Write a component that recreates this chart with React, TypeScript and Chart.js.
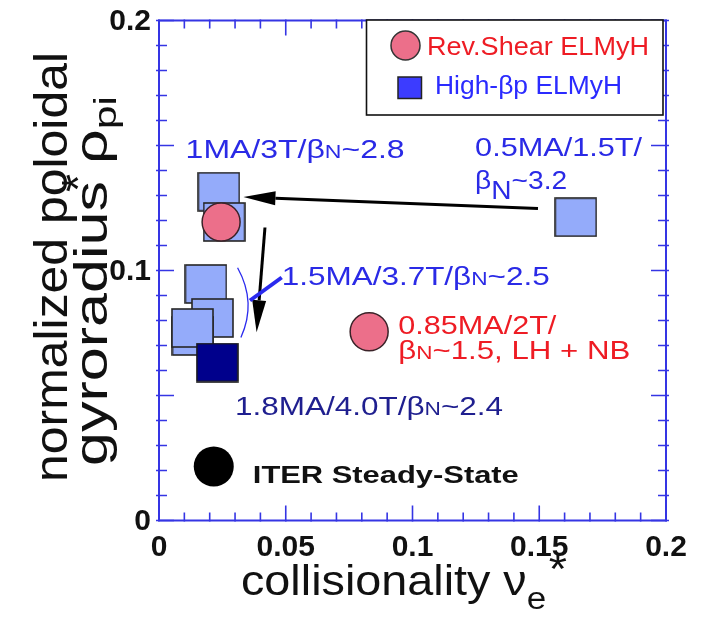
import React, { useEffect, useRef } from "react";
import { Chart, registerables } from "chart.js";

Chart.register(...registerables);

// Axis ticks (value, label)
const xTickValues = [0, 0.05, 0.1, 0.15, 0.2];
const xTickLabels = ["0", "0.05", "0.1", "0.15", "0.2"];
const yTickValues = [0, 0.1, 0.2];
const yTickLabels = ["0", "0.1", "0.2"];

// High-βp ELMy H-mode discharges (collisionality, normalized poloidal gyroradius)
const highBpNu = [0.0236, 0.0257, 0.0185, 0.0211, 0.0134, 0.0132, 0.1644];
const highBpRho = [0.1315, 0.1194, 0.0946, 0.081, 0.0738, 0.077, 0.1213];
// 1.8MA / 4.0T high-βp discharge
const highIpNu = [0.023];
const highIpRho = [0.0632];
// Reversed-shear ELMy H-mode discharges
const revShearNu = [0.0245, 0.0829];
const revShearRho = [0.1194, 0.0755];
// ITER steady-state operating point
const iterNu = [0.0216];
const iterRho = [0.0216];

const AXIS_BLUE = "#3535e4";
const SQUARE_FILL = "#94abfa";
const NAVY = "#00008c";
const PINK = "#ec6f8a";
const LABEL_BLUE = "#2a2ae6";
const LABEL_NAVY = "#1f1f8f";
const LABEL_RED = "#ee1c24";
const FONT = "Arial, 'Liberation Sans', sans-serif";

type Seg = { t: string; s?: number; dy?: number };

function drawRich(
  ctx: CanvasRenderingContext2D,
  segs: Seg[],
  x: number,
  y: number,
  size: number,
  weight: string,
  color: string,
  width?: number
) {
  let total = 0;
  const widths: number[] = [];
  for (const sg of segs) {
    ctx.font = `${weight} ${size * (sg.s ?? 1)}px ${FONT}`;
    const w = ctx.measureText(sg.t).width;
    widths.push(w);
    total += w;
  }
  const sx = width ? width / total : 1;
  ctx.save();
  ctx.translate(x, y);
  ctx.scale(sx, 1);
  ctx.fillStyle = color;
  ctx.textAlign = "left";
  ctx.textBaseline = "alphabetic";
  let cx = 0;
  segs.forEach((sg, i) => {
    ctx.font = `${weight} ${size * (sg.s ?? 1)}px ${FONT}`;
    ctx.fillText(sg.t, cx, sg.dy ?? 0);
    cx += widths[i];
  });
  ctx.restore();
}

// Text annotations anchored at data coordinates (left edge, baseline)
const annotations: {
  nu: number;
  rho: number;
  segs: Seg[];
  size: number;
  weight: string;
  color: string;
  width: number;
}[] = [
  { nu: 0.0105, rho: 0.1451, segs: [{ t: "1MA/3T/β" }, { t: "N", s: 0.72 }, { t: "~2.8" }], size: 25, weight: "normal", color: LABEL_BLUE, width: 219 },
  { nu: 0.1247, rho: 0.1458, segs: [{ t: "0.5MA/1.5T/" }], size: 25, weight: "normal", color: LABEL_BLUE, width: 167 },
  { nu: 0.1247, rho: 0.1325, segs: [{ t: "β" }, { t: "N", dy: 10 }, { t: "~3.2" }], size: 25, weight: "normal", color: LABEL_BLUE, width: 92 },
  { nu: 0.0484, rho: 0.0943, segs: [{ t: "1.5MA/3.7T/β" }, { t: "N", s: 0.72 }, { t: "~2.5" }], size: 25, weight: "normal", color: LABEL_BLUE, width: 268 },
  { nu: 0.0944, rho: 0.0748, segs: [{ t: "0.85MA/2T/" }], size: 25, weight: "normal", color: LABEL_RED, width: 158 },
  { nu: 0.0944, rho: 0.0648, segs: [{ t: "β" }, { t: "N", s: 0.72 }, { t: "~1.5, LH + NB" }], size: 25, weight: "normal", color: LABEL_RED, width: 232 },
  { nu: 0.03, rho: 0.0421, segs: [{ t: "1.8MA/4.0T/β" }, { t: "N", s: 0.72 }, { t: "~2.4" }], size: 25, weight: "normal", color: LABEL_NAVY, width: 268 },
  { nu: 0.037, rho: 0.015, segs: [{ t: "ITER Steady-State" }], size: 24, weight: "bold", color: "#111", width: 266 },
];

// Arrows (tail -> tip) in data coordinates
const arrows = [
  { from: [0.1495, 0.1248], to: [0.0333, 0.1294] },
  { from: [0.0418, 0.1172], to: [0.0385, 0.0753] },
];

function makeSquare(w: number, h: number, fill: string, stroke: string, lw: number) {
  const c = document.createElement("canvas");
  c.width = w + 2;
  c.height = h + 2;
  const g = c.getContext("2d")!;
  g.fillStyle = fill;
  g.fillRect(1, 1, w, h);
  g.strokeStyle = stroke;
  g.lineWidth = lw;
  g.strokeRect(1, 1, w, h);
  return c;
}

export default function App() {
  const ref = useRef<HTMLCanvasElement>(null);

  useEffect(() => {
    const canvas = ref.current!;
    const lightSquare = makeSquare(41, 38, SQUARE_FILL, "#262626", 1.6);
    const navySquare = makeSquare(41, 38, NAVY, "#1a1a1a", 1.6);

    const decorations = {
      id: "decorations",
      beforeDatasetsDraw(chart: any) {
        const { ctx, chartArea: a, scales } = chart;
        const xs = scales.x;
        const ys = scales.y;
        ctx.save();
        // frame
        ctx.strokeStyle = AXIS_BLUE;
        ctx.lineWidth = 2;
        ctx.strokeRect(a.left, a.top, a.right - a.left, a.bottom - a.top);
        // inward ticks every 0.01, longer at multiples of 0.05
        ctx.lineWidth = 1.6;
        for (let i = 0; i <= 20; i++) {
          const v = i / 100;
          const major = i % 5 === 0;
          const len = major ? 15 : 8;
          const px = xs.getPixelForValue(v);
          const py = ys.getPixelForValue(v);
          ctx.beginPath();
          ctx.moveTo(px, a.bottom + 1);
          ctx.lineTo(px, a.bottom - len);
          ctx.moveTo(px, a.top - 1);
          ctx.lineTo(px, a.top + len);
          ctx.moveTo(a.left - 3, py);
          ctx.lineTo(a.left + len, py);
          ctx.moveTo(a.right + 3, py);
          ctx.lineTo(a.right - len, py);
          ctx.stroke();
        }
        // tick labels
        ctx.fillStyle = "#111";
        ctx.font = `bold 30px ${FONT}`;
        ctx.textAlign = "center";
        ctx.textBaseline = "alphabetic";
        xTickValues.forEach((v, i) => {
          ctx.fillText(xTickLabels[i], xs.getPixelForValue(v), a.bottom + 35);
        });
        ctx.textAlign = "right";
        yTickValues.forEach((v, i) => {
          ctx.fillText(yTickLabels[i], a.left - 8, ys.getPixelForValue(v) + 9);
        });

        // axis titles
        drawRich(
          ctx,
          [{ t: "collisionality ν" }, { t: "e", s: 0.75, dy: 14 }, { t: " " , s: 0.2}, { t: "*", dy: -12 }],
          241, 595, 43, "normal", "#111", 326
        );
        ctx.save();
        ctx.translate(67, 482);
        ctx.rotate(-Math.PI / 2);
        drawRich(ctx, [{ t: "normalized poloidal" }], 0, 0, 47, "normal", "#111", 430);
        ctx.restore();
        ctx.save();
        ctx.translate(107, 466);
        ctx.rotate(-Math.PI / 2);
        drawRich(ctx, [{ t: "gyroradius ρ" }, { t: "pi", s: 0.7, dy: 9 }], 0, 0, 46, "normal", "#111", 370);
        ctx.restore();
        ctx.font = `normal 46px ${FONT}`;
        ctx.save();
        ctx.translate(94, 174);
        ctx.rotate(-Math.PI / 2);
        ctx.fillStyle = "#111";
        ctx.fillText("*", 0, 0);
        ctx.restore();
        ctx.restore();
      },
      afterDatasetsDraw(chart: any) {
        const { ctx, scales } = chart;
        const xs = scales.x;
        const ys = scales.y;
        const P = (p: number[]) => [xs.getPixelForValue(p[0]), ys.getPixelForValue(p[1])];
        ctx.save();
        // arrows
        ctx.strokeStyle = "#000";
        ctx.fillStyle = "#000";
        arrows.forEach((ar) => {
          const [x1, y1] = P(ar.from);
          const [x2, y2] = P(ar.to);
          const ang = Math.atan2(y2 - y1, x2 - x1);
          const hl = 32;
          const hw = 7;
          const bx = x2 - hl * Math.cos(ang);
          const by = y2 - hl * Math.sin(ang);
          ctx.lineWidth = 3;
          ctx.beginPath();
          ctx.moveTo(x1, y1);
          ctx.lineTo(bx, by);
          ctx.stroke();
          ctx.beginPath();
          ctx.moveTo(x2, y2);
          ctx.lineTo(bx + hw * Math.sin(ang), by - hw * Math.cos(ang));
          ctx.lineTo(bx - hw * Math.sin(ang), by + hw * Math.cos(ang));
          ctx.closePath();
          ctx.fill();
        });
        // bracket around the 1.5MA group and its pointer
        ctx.strokeStyle = "#2a2aee";
        ctx.lineWidth = 1.3;
        const [a1x, a1y] = P([0.031, 0.1011]);
        const [acx, acy] = P([0.0386, 0.0872]);
        const [a2x, a2y] = P([0.0323, 0.0732]);
        ctx.beginPath();
        ctx.moveTo(a1x, a1y);
        ctx.quadraticCurveTo(acx, acy, a2x, a2y);
        ctx.stroke();
        const [p1x, p1y] = P([0.0484, 0.0972]);
        const [p2x, p2y] = P([0.0359, 0.088]);
        ctx.lineWidth = 4;
        ctx.beginPath();
        ctx.moveTo(p1x, p1y);
        ctx.lineTo(p2x, p2y);
        ctx.stroke();
        // text annotations
        annotations.forEach((an) => {
          drawRich(ctx, an.segs, xs.getPixelForValue(an.nu), ys.getPixelForValue(an.rho), an.size, an.weight, an.color, an.width);
        });
        ctx.restore();
      },
      afterDraw(chart: any) {
        const { ctx } = chart;
        ctx.save();
        // legend box
        ctx.fillStyle = "#fff";
        ctx.fillRect(366.5, 20, 296.5, 95);
        ctx.strokeStyle = "#111";
        ctx.lineWidth = 1.6;
        ctx.strokeRect(366.5, 20, 296.5, 95);
        ctx.beginPath();
        ctx.arc(405.5, 45.5, 14.5, 0, Math.PI * 2);
        ctx.fillStyle = PINK;
        ctx.fill();
        ctx.strokeStyle = "#333";
        ctx.lineWidth = 1.5;
        ctx.stroke();
        drawRich(ctx, [{ t: "Rev.Shear ELMyH" }], 427, 55, 25, "normal", LABEL_RED, 222);
        ctx.fillStyle = "#3c3cff";
        ctx.fillRect(398, 77, 23.5, 21.5);
        ctx.strokeStyle = "#222";
        ctx.strokeRect(398, 77, 23.5, 21.5);
        drawRich(ctx, [{ t: "High-βp ELMyH" }], 435, 93.5, 25, "normal", "#2b2bff", 187);
        ctx.restore();
      },
    };

    const pts = (xs: number[], ys: number[]) => xs.map((x, i) => ({ x, y: ys[i] }));

    const chart = new Chart(canvas, {
      type: "scatter",
      data: {
        datasets: [
          {
            label: "ITER Steady-State",
            data: pts(iterNu, iterRho),
            pointStyle: "circle",
            pointRadius: 20,
            backgroundColor: "#000",
            borderColor: "#000",
            borderWidth: 0,
            order: 0,
          },
          {
            label: "Rev.Shear ELMyH",
            data: pts(revShearNu, revShearRho),
            pointStyle: "circle",
            pointRadius: 19,
            backgroundColor: PINK,
            borderColor: "#3a2228",
            borderWidth: 1.5,
            order: 1,
          },
          {
            label: "1.8MA/4.0T",
            data: pts(highIpNu, highIpRho),
            pointStyle: navySquare,
            order: 2,
          },
          {
            label: "High-βp ELMyH",
            data: pts(highBpNu, highBpRho),
            pointStyle: lightSquare,
            order: 3,
          },
        ],
      },
      options: {
        responsive: false,
        animation: false,
        events: [],
        layout: { padding: { left: 159, top: 19, right: 36, bottom: 98.5 } },
        plugins: { legend: { display: false }, tooltip: { enabled: false } },
        scales: {
          x: { type: "linear", min: 0, max: 0.2, display: false },
          y: { type: "linear", min: 0, max: 0.2, display: false },
        },
      },
      plugins: [decorations],
    });
    return () => chart.destroy();
  }, []);

  return (
    <div style={{ position: "fixed", left: 0, top: 0, width: 702, height: 619, background: "#fff" }}>
      <canvas ref={ref} width={702} height={619} style={{ display: "block" }} />
    </div>
  );
}
